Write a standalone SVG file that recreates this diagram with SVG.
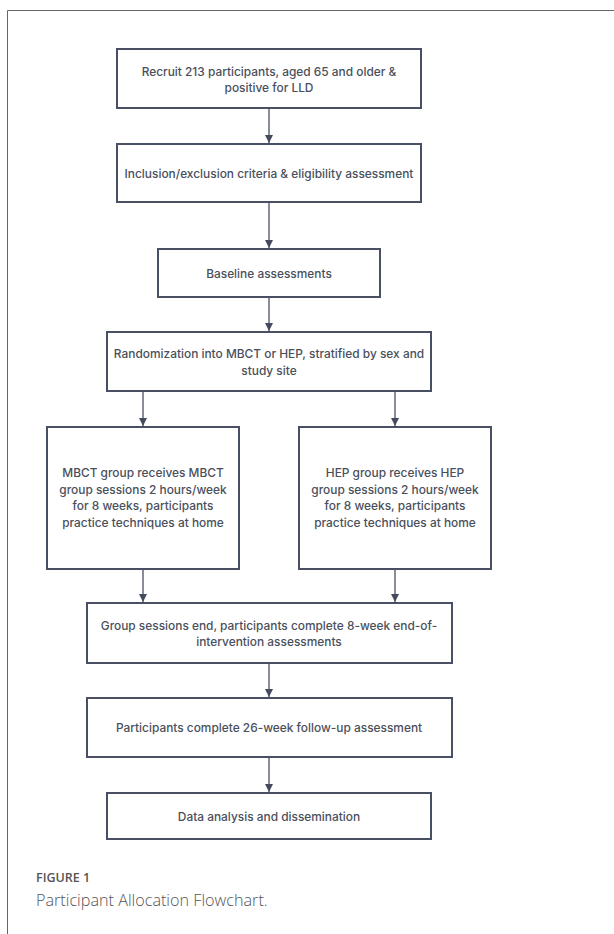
<svg xmlns="http://www.w3.org/2000/svg" width="614" height="934" viewBox="0 0 614 934">
<defs>
<marker id="ah" viewBox="0 0 10 10" refX="10" refY="5" markerWidth="8" markerHeight="8" markerUnits="userSpaceOnUse" orient="auto">
<path d="M0,0 L10,5 L0,10 z" fill="#454b5e"/>
</marker>
<style>
.box{fill:#fff;stroke:#4a5064;stroke-width:2}
.t{font-family:Inter,"Liberation Sans",sans-serif;font-size:11.9px;font-weight:450;fill:#4a4f5c;text-anchor:middle}
.c{stroke:#4a5064;stroke-width:1.3;fill:none;marker-end:url(#ah)}
</style>
</defs>
<rect width="614" height="934" fill="#fff"/>
<path d="M7.5,934 V10.5 H614" fill="none" stroke="#666" stroke-width="1"/>
<g id="connectors">
<line class="c" x1="269" y1="109" x2="269" y2="143"/>
<line class="c" x1="269" y1="203" x2="269" y2="248"/>
<line class="c" x1="269" y1="298" x2="269" y2="331"/>
<line class="c" x1="143" y1="392" x2="143" y2="426"/>
<line class="c" x1="395" y1="392" x2="395" y2="426"/>
<line class="c" x1="143" y1="570" x2="143" y2="602"/>
<line class="c" x1="395" y1="570" x2="395" y2="602"/>
<line class="c" x1="269" y1="664" x2="269" y2="697"/>
<line class="c" x1="269" y1="758" x2="269" y2="792"/>
</g>
<g id="n1"><rect class="box" x="117" y="49" width="304" height="59"/>
<text class="t" x="269" y="76">Recruit 213 participants, aged 65 and older &amp;</text>
<text class="t" x="269" y="92">positive for LLD</text></g>
<g id="n2"><rect class="box" x="117" y="144" width="304" height="58"/>
<text class="t" x="269" y="178">Inclusion/exclusion criteria &amp; eligibility assessment</text></g>
<g id="n3"><rect class="box" x="158" y="249" width="222" height="48"/>
<text class="t" x="269" y="278">Baseline assessments</text></g>
<g id="n4"><rect class="box" x="107" y="332" width="324" height="59"/>
<text class="t" x="269" y="358">Randomization into MBCT or HEP, stratified by sex and</text>
<text class="t" x="269" y="375">study site</text></g>
<g id="n5"><rect class="box" x="47" y="427" width="192" height="142"/>
<text class="t" x="143" y="477">MBCT group receives MBCT</text>
<text class="t" x="143" y="494">group sessions 2 hours/week</text>
<text class="t" x="143" y="510">for 8 weeks, participants</text>
<text class="t" x="143" y="527">practice techniques at home</text></g>
<g id="n6"><rect class="box" x="299" y="427" width="192" height="142"/>
<text class="t" x="395" y="477">HEP group receives HEP</text>
<text class="t" x="395" y="494">group sessions 2 hours/week</text>
<text class="t" x="395" y="510">for 8 weeks, participants</text>
<text class="t" x="395" y="527">practice techniques at home</text></g>
<g id="n7"><rect class="box" x="87" y="603" width="365" height="60"/>
<text class="t" x="269" y="630">Group sessions end, participants complete 8-week end-of-</text>
<text class="t" x="269" y="646">intervention assessments</text></g>
<g id="n8"><rect class="box" x="87" y="698" width="365" height="59"/>
<text class="t" x="269" y="732">Participants complete 26-week follow-up assessment</text></g>
<g id="n9"><rect class="box" x="107" y="793" width="324" height="46"/>
<text class="t" x="269" y="821">Data analysis and dissemination</text></g>
<text x="36" y="882" font-family="'Open Sans','Liberation Sans',sans-serif" font-size="12.5" font-weight="600" fill="#555">FIGURE 1</text>
<text x="36" y="906" font-family="'Open Sans','Liberation Sans',sans-serif" font-size="16.2" font-weight="300" fill="#555">Participant Allocation Flowchart.</text>
</svg>
